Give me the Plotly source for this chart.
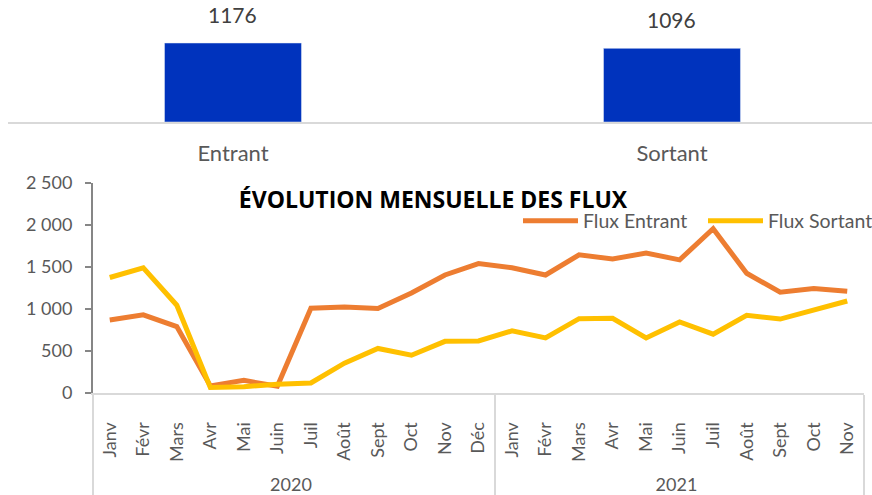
import plotly.graph_objects as go

# ---- data ----
bar_categories = ["Entrant", "Sortant"]
bar_values = [1176, 1096]

months_2020 = ["Janv", "Févr", "Mars", "Avr", "Mai", "Juin", "Juil", "Août", "Sept", "Oct", "Nov", "Déc"]
months_2021 = ["Janv", "Févr", "Mars", "Avr", "Mai", "Juin", "Juil", "Août", "Sept", "Oct", "Nov"]
years = ["2020"] * len(months_2020) + ["2021"] * len(months_2021)
months = months_2020 + months_2021

flux_entrant = [870, 930, 790, 85, 150, 80, 1010, 1025, 1005, 1190, 1405, 1540,
                1490, 1405, 1645, 1595, 1665, 1585, 1955, 1425, 1200, 1245, 1210]
flux_sortant = [1375, 1490, 1045, 65, 75, 105, 120, 355, 530, 450, 615, 620,
                740, 655, 885, 890, 655, 845, 700, 925, 880, 985, 1095]

FONT = "Lato"
GREY_TXT = "#595959"
W, H = 872, 495

# leading non-breaking spaces push the year row a little lower (visual spacing only)
PAD = "\u00a0" * 3
month_labels = [PAD + m for m in months]

fig = go.Figure()

fig.add_trace(go.Bar(
    x=bar_categories, y=bar_values, marker_color="#0033BD", width=0.312,
    xaxis="x2", yaxis="y2", showlegend=False, hoverinfo="x+y",
))

fig.add_trace(go.Scatter(
    x=[years, month_labels], y=flux_entrant, mode="lines", name="Flux Entrant",
    line=dict(color="#ED7D31", width=5),
))
fig.add_trace(go.Scatter(
    x=[years, month_labels], y=flux_sortant, mode="lines", name="Flux Sortant",
    line=dict(color="#FFC000", width=5),
))

annotations = []
for c, v in zip(bar_categories, bar_values):
    annotations.append(dict(
        x=c, y=v, xref="x2", yref="y2", text=str(v), showarrow=False,
        yanchor="bottom", yshift=14, font=dict(family=FONT, size=21, color="#404040"),
    ))

fig.update_layout(
    width=W, height=H,
    margin=dict(l=0, r=0, t=0, b=0, autoexpand=False),
    paper_bgcolor="white", plot_bgcolor="white",
    separators=", ",
    font=dict(family=FONT, color=GREY_TXT),
    title=dict(
        text="<b>ÉVOLUTION MENSUELLE DES FLUX</b>",
        x=433 / W, xanchor="center", y=1 - 200 / H, yanchor="middle",
        font=dict(family="Open Sans", size=23, color="black"),
    ),
    showlegend=True,
    legend=dict(
        orientation="h", x=518 / W, xanchor="left", y=1 - 221 / H, yanchor="middle",
        font=dict(family=FONT, size=19.5, color=GREY_TXT), bgcolor="rgba(0,0,0,0)",
        itemwidth=55, entrywidth=115, entrywidthmode="pixels",
    ),
    xaxis=dict(
        domain=[93 / W, 864 / W], anchor="y", type="multicategory",
        range=[-0.5, len(months) - 0.5], automargin=False,
        showline=True, linecolor="#D9D9D9", linewidth=2,
        showgrid=False, ticks="", tickangle=-90,
        tickfont=dict(family=FONT, size=18, color=GREY_TXT),
        showdividers=True, dividercolor="#D9D9D9", dividerwidth=2,
        ticklabelstandoff=20,
    ),
    yaxis=dict(
        domain=[(H - 393) / H, (H - 183) / H], anchor="x", automargin=False,
        range=[0, 2500], dtick=500, separatethousands=True,
        showline=True, linecolor="#868686", linewidth=2,
        ticks="outside", ticklen=6, tickcolor="#868686", tickwidth=2,
        showgrid=False, zeroline=False,
        tickfont=dict(family=FONT, size=18, color=GREY_TXT),
        ticklabelstandoff=9,
    ),
    xaxis2=dict(
        domain=[8 / W, 1], anchor="y2", range=[-0.5125, 1.4556], automargin=False,
        showline=True, linecolor="#D9D9D9", linewidth=2,
        showgrid=False, ticks="",
        tickfont=dict(family=FONT, size=22, color=GREY_TXT),
        ticklabelstandoff=11,
    ),
    yaxis2=dict(
        domain=[(H - 122) / H, 1], anchor="x2", range=[0, 1816], visible=False,
        automargin=False,
    ),
    annotations=annotations,
)

fig.write_html(
    "out.html",
    config={"displayModeBar": False},
    post_script="document.body.style.margin='0px';",
)
